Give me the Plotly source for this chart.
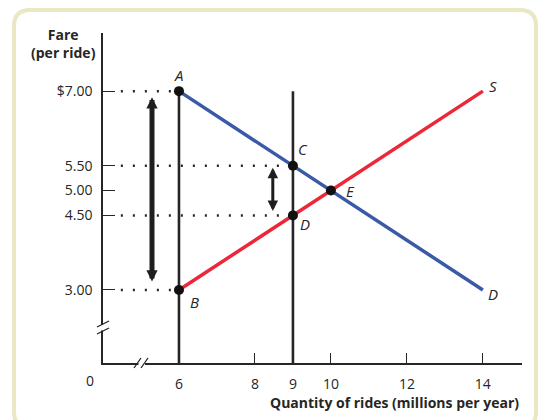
import plotly.graph_objects as go

# ---- data ----
quantities = [6, 14]
demand_prices = [7.0, 3.0]
supply_prices = [3.0, 7.0]
point_names = ["A", "B", "C", "D", "E"]
point_q = [6, 6, 9, 9, 10]
point_p = [7.0, 3.0, 5.5, 4.5, 5.0]
y_tickvals = [3.0, 4.5, 5.0, 5.5, 7.0]
y_ticktext = ["3.00", "4.50", "5.00", "5.50", "$7.00"]
x_tickvals = [6, 8, 9, 10, 12, 14]
x_ticktext = ["6", "8", "9", "10", "12", "14"]
quota_q = [6, 9]
dotted_prices = [7.0, 3.0, 5.5, 4.5]
dotted_q = [6, 6, 9, 9]

W, H = 538, 420
PL, PR, PT, PB = 103, 522, 33, 363  # plot area in page pixels
L, R, T, B = PL, W - PR, PT, H - PB
X0, X1 = 4.0, 15.03
Y0, Y1 = 1.53, 8.17
FONT = "Open Sans"
INK = "#262626"
BLUE = "#3a5aa8"
RED = "#ec2838"


def px(x):
    return (x - PL) / (PR - PL)


def py(y):
    return (PB - y) / (PB - PT)


fig = go.Figure()

# dotted guide lines
for q, p in zip(dotted_q, dotted_prices):
    fig.add_trace(go.Scatter(x=[4.47, q], y=[p, p], mode="lines",
                             line=dict(color=INK, width=2.5, dash="2px,10px"),
                             hoverinfo="skip", showlegend=False))

# quota vertical lines
for q in quota_q:
    fig.add_trace(go.Scatter(x=[q, q], y=[7.0, Y0], mode="lines",
                             line=dict(color=INK, width=2.6),
                             hoverinfo="skip", showlegend=False))

# demand and supply
fig.add_trace(go.Scatter(x=quantities, y=demand_prices, mode="lines",
                         line=dict(color=BLUE, width=3.5), showlegend=False))
fig.add_trace(go.Scatter(x=quantities, y=supply_prices, mode="lines",
                         line=dict(color=RED, width=3.5), showlegend=False))

# points
fig.add_trace(go.Scatter(x=point_q, y=point_p, mode="markers",
                         marker=dict(color="#111111", size=10),
                         showlegend=False))

LBL = dict(family=FONT, size=15, color=INK, style="italic")
annotations = []
label_shift = {"A": (0, 16), "B": (16, -12), "C": (10, 17), "D": (12, -9), "E": (20, 0)}
for n, q, p in zip(point_names, point_q, point_p):
    dx, dy = label_shift[n]
    annotations.append(dict(x=q, y=p, text=n, showarrow=False, xshift=dx, yshift=dy, font=LBL))
annotations.append(dict(x=quantities[1], y=supply_prices[1], text="S", showarrow=False,
                        xshift=10, yshift=5, font=LBL))
annotations.append(dict(x=quantities[1], y=demand_prices[1], text="D", showarrow=False,
                        xshift=10, yshift=-4, font=LBL))

# wedge arrows
annotations.append(dict(x=5.29, y=7.0, ax=5.29, ay=3.0, xref="x", yref="y", axref="x", ayref="y",
                        showarrow=True, arrowhead=2, arrowside="end+start", arrowsize=0.45,
                        arrowwidth=5, arrowcolor="#1e1e1e", standoff=6, startstandoff=7, text=""))
annotations.append(dict(x=8.47, y=5.5, ax=8.47, ay=4.5, xref="x", yref="y", axref="x", ayref="y",
                        showarrow=True, arrowhead=2, arrowside="end+start", arrowsize=0.7,
                        arrowwidth=3, arrowcolor="#1e1e1e", standoff=2, startstandoff=3, text=""))

# axis titles and origin label
annotations.append(dict(x=px(63), y=py(23), xref="paper", yref="paper", xanchor="center", yanchor="top",
                        text="<b>Fare</b><br><b>(per ride)</b>", showarrow=False, align="center",
                        font=dict(family=FONT, size=14, color=INK)))
annotations.append(dict(x=px(521), y=py(403), xref="paper", yref="paper", xanchor="right", yanchor="middle",
                        text="<b>Quantity of rides (millions per year)</b>", showarrow=False,
                        font=dict(family=FONT, size=14, color=INK)))
annotations.append(dict(x=px(90), y=py(380), xref="paper", yref="paper", xanchor="center", yanchor="middle",
                        text="0", showarrow=False, font=dict(family=FONT, size=14, color=INK)))

shapes = []
# frame
fl, fr, ft, fb, r = 14, 536, 10, 428, 16
path = (f"M {px(fl)},{py(ft + r)} Q {px(fl)},{py(ft)} {px(fl + r)},{py(ft)} "
        f"L {px(fr - r)},{py(ft)} Q {px(fr)},{py(ft)} {px(fr)},{py(ft + r)} "
        f"L {px(fr)},{py(fb - r)} Q {px(fr)},{py(fb)} {px(fr - r)},{py(fb)} "
        f"L {px(fl + r)},{py(fb)} Q {px(fl)},{py(fb)} {px(fl)},{py(fb - r)} Z")
shapes.append(dict(type="path", path=path, xref="paper", yref="paper",
                   line=dict(color="#e9e7c4", width=4), layer="below"))
# axis breaks: white gaps then slashes
shapes.append(dict(type="rect", xref="paper", yref="paper", x0=px(100), x1=px(106), y0=py(325), y1=py(330.5),
                   fillcolor="white", line=dict(width=0), layer="above"))
shapes.append(dict(type="rect", xref="paper", yref="paper", x0=px(138.5), x1=px(145), y0=py(360), y1=py(366),
                   fillcolor="white", line=dict(width=0), layer="above"))
for (x0, y0, x1, y1) in [(97, 327, 109, 321), (97, 334, 109, 328), (134, 368, 141, 358), (141, 368, 148, 358)]:
    shapes.append(dict(type="line", xref="paper", yref="paper", x0=px(x0), y0=py(y0), x1=px(x1), y1=py(y1),
                       line=dict(color=INK, width=1.3), layer="above"))

fig.update_layout(
    width=W, height=H,
    margin=dict(l=L, r=R, t=T, b=B),
    paper_bgcolor="white", plot_bgcolor="white",
    showlegend=False,
    annotations=annotations,
    shapes=shapes,
    xaxis=dict(range=[X0, X1], showgrid=False, zeroline=False, showline=True, linecolor=INK, linewidth=1.5,
               ticks="inside", ticklen=10, tickwidth=1.3, tickcolor=INK,
               tickvals=x_tickvals, ticktext=x_ticktext, ticklabelstandoff=7,
               tickfont=dict(family=FONT, size=14, color=INK), fixedrange=True),
    yaxis=dict(range=[Y0, Y1], showgrid=False, zeroline=False, showline=True, linecolor=INK, linewidth=1.5,
               ticks="inside", ticklen=12, tickwidth=1.3, tickcolor=INK,
               tickvals=y_tickvals, ticktext=y_ticktext, ticklabelstandoff=6,
               tickfont=dict(family=FONT, size=14, color=INK), fixedrange=True),
)

fig.write_html("out.html", config={"displayModeBar": False},
               post_script="document.body.style.margin='0';document.body.style.overflow='hidden';")
